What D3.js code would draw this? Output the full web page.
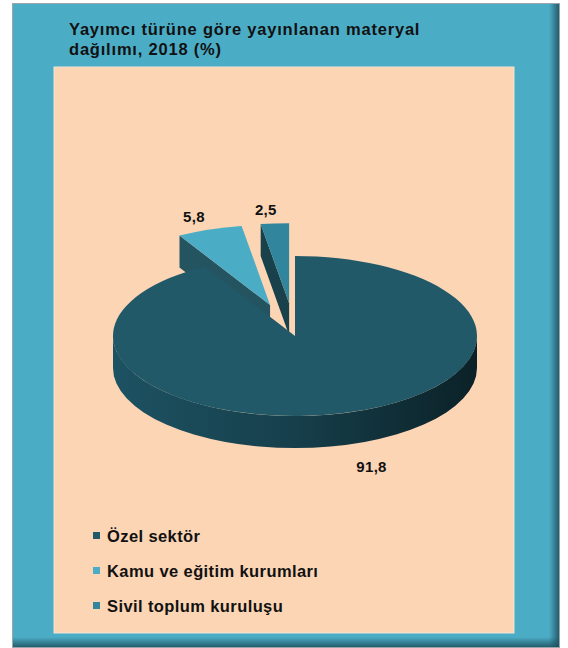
<!DOCTYPE html>
<html>
<head>
<meta charset="utf-8">
<script src="https://cdn.jsdelivr.net/npm/d3@7"></script>
<style>
  body { margin: 0; background: #fff; }
  text { font-family: "Liberation Sans", Arial, sans-serif; font-weight: bold; fill: #111; }
</style>
</head>
<body>
<div id="chart"></div>
<script>
// data
const categories = ["Özel sektör", "Kamu ve eğitim kurumları", "Sivil toplum kuruluşu"];
const values = [91.8, 5.8, 2.5];
const valueLabels = ["91,8", "5,8", "2,5"];
const colors = ["#215968", "#4BACC6", "#31859C"];
const exploded = [false, true, true];
const titleLines = ["Yayımcı türüne göre yayınlanan materyal", "dağılımı, 2018 (%)"];

const W = 568, H = 648;
const svg = d3.select("#chart").append("svg")
    .attr("width", W)
    .attr("height", H);

const defs = svg.append("defs");

// shadow gradients for the frame
let gR = defs.append("linearGradient").attr("id", "shR").attr("x1", 0).attr("x2", 1).attr("y1", 0).attr("y2", 0);
gR.append("stop").attr("offset", 0).attr("stop-color", "#1d4f5e").attr("stop-opacity", 0);
gR.append("stop").attr("offset", 1).attr("stop-color", "#1d4f5e").attr("stop-opacity", 0.85);
let gB = defs.append("linearGradient").attr("id", "shB").attr("x1", 0).attr("x2", 0).attr("y1", 0).attr("y2", 1);
gB.append("stop").attr("offset", 0).attr("stop-color", "#1d4f5e").attr("stop-opacity", 0);
gB.append("stop").attr("offset", 1).attr("stop-color", "#1d4f5e").attr("stop-opacity", 0.85);

// wall gradient of the big slice
let gW = defs.append("linearGradient").attr("id", "wall").attr("x1", 0).attr("x2", 1).attr("y1", 0).attr("y2", 0);
gW.append("stop").attr("offset", 0).attr("stop-color", "#1d5262");
gW.append("stop").attr("offset", 0.5).attr("stop-color", "#163f4b");
gW.append("stop").attr("offset", 1).attr("stop-color", "#0b2127");

// frame
svg.append("rect")
    .attr("x", 12.5).attr("y", 3.5).attr("width", 547).attr("height", 644)
    .attr("fill", "#4BACC6").attr("stroke", "#9aa6aa");
svg.append("rect")
    .attr("x", 549).attr("y", 4).attr("width", 10).attr("height", 643)
    .attr("fill", "url(#shR)");
svg.append("rect")
    .attr("x", 13).attr("y", 637).attr("width", 546).attr("height", 10)
    .attr("fill", "url(#shB)");

// plot area
svg.append("rect")
    .attr("x", 54).attr("y", 67).attr("width", 460).attr("height", 566)
    .attr("fill", "#FCD5B5").attr("stroke", "#f3e4d6");

// title
svg.append("g").selectAll("text")
    .data(titleLines)
    .join("text")
    .attr("x", 69)
    .attr("y", (d, i) => 35 + i * 20)
    .style("font-size", "16.5px")
    .style("letter-spacing", "0.8px")
    .text(d => d);

// 3D pie
const cx = 295, cy = 336, rx = 182, ry = 80, depth = 32;
const k = ry / rx;
const D = depth / k;           // depth in unscaled units
const explodeDist = 75;

const pie = d3.pie().sort(null).value(d => d);
const arcs = pie(values).map((a, i) => {
    a.index = i;
    let mid = (a.startAngle + a.endAngle) / 2;
    let e = exploded[i] ? explodeDist : 0;
    a.ox = e * Math.sin(mid);
    a.oy = -e * Math.cos(mid);
    a.mid = mid;
    return a;
});

const arcGen = d3.arc().innerRadius(0).outerRadius(rx);

const pieG = svg.append("g")
    .attr("transform", `translate(${cx},${cy}) scale(1,${k})`);

// draw exploded (back) slices first, then the big slice
const order = arcs.slice().sort((a, b) => (exploded[b.index] ? 1 : 0) - (exploded[a.index] ? 1 : 0));

const halfPi = Math.PI / 2;

order.forEach(a => {
    const g = pieG.append("g").attr("transform", `translate(${a.ox},${a.oy})`);
    const base = d3.color(colors[a.index]);

    // radial cut faces
    [[a.startAngle, Math.sin(a.startAngle) < -1e-6], [a.endAngle, Math.sin(a.endAngle) > 1e-6]].forEach(([ang, vis]) => {
        if (!vis) return;
        const x = rx * Math.sin(ang), y = -rx * Math.cos(ang);
        const p = d3.path();
        p.moveTo(0, 0);
        p.lineTo(x, y);
        p.lineTo(x, y + D);
        p.lineTo(0, D);
        p.closePath();
        g.append("path").attr("d", p.toString()).attr("fill", base.darker(2));
    });

    // outer wall (front half only)
    const w0 = Math.max(a.startAngle, halfPi), w1 = Math.min(a.endAngle, 3 * halfPi);
    if (w1 > w0) {
        const p = d3.path();
        p.moveTo(rx * Math.sin(w0), -rx * Math.cos(w0));
        p.arc(0, 0, rx, w0 - halfPi, w1 - halfPi, false);
        p.lineTo(rx * Math.sin(w1), -rx * Math.cos(w1) + D);
        p.arc(0, D, rx, w1 - halfPi, w0 - halfPi, true);
        p.closePath();
        g.append("path").attr("d", p.toString())
            .attr("fill", a.index === 0 ? "url(#wall)" : base.darker(1.5));
    }

    // top face
    g.append("path").attr("d", arcGen(a)).attr("fill", colors[a.index]);
});

// value labels
const pad = 26;
svg.append("g").selectAll("text")
    .data(arcs)
    .join("text")
    .attr("x", d => cx + d.ox + (rx + pad) * Math.sin(d.mid) + (Math.cos(d.mid) < 0 ? 23 : -7))
    .attr("y", d => cy + k * (d.oy - (rx + pad) * Math.cos(d.mid)) + (Math.cos(d.mid) < 0 ? depth + 10 : -2))
    .attr("dy", "0.35em")
    .attr("text-anchor", "middle")
    .style("font-size", "15px")
    .style("letter-spacing", "0.3px")
    .text(d => valueLabels[d.index]);

// legend
const legend = svg.append("g").attr("transform", "translate(93,536)");
const rows = legend.selectAll("g")
    .data(categories)
    .join("g")
    .attr("transform", (d, i) => `translate(0,${i * 35})`);
rows.append("rect")
    .attr("x", 0).attr("y", -4).attr("width", 7).attr("height", 7)
    .attr("fill", (d, i) => colors[i]);
rows.append("text")
    .attr("x", 14).attr("y", 0)
    .attr("dy", "0.35em")
    .style("font-size", "16.5px")
    .style("letter-spacing", "0.4px")
    .text(d => d);
</script>
</body>
</html>
